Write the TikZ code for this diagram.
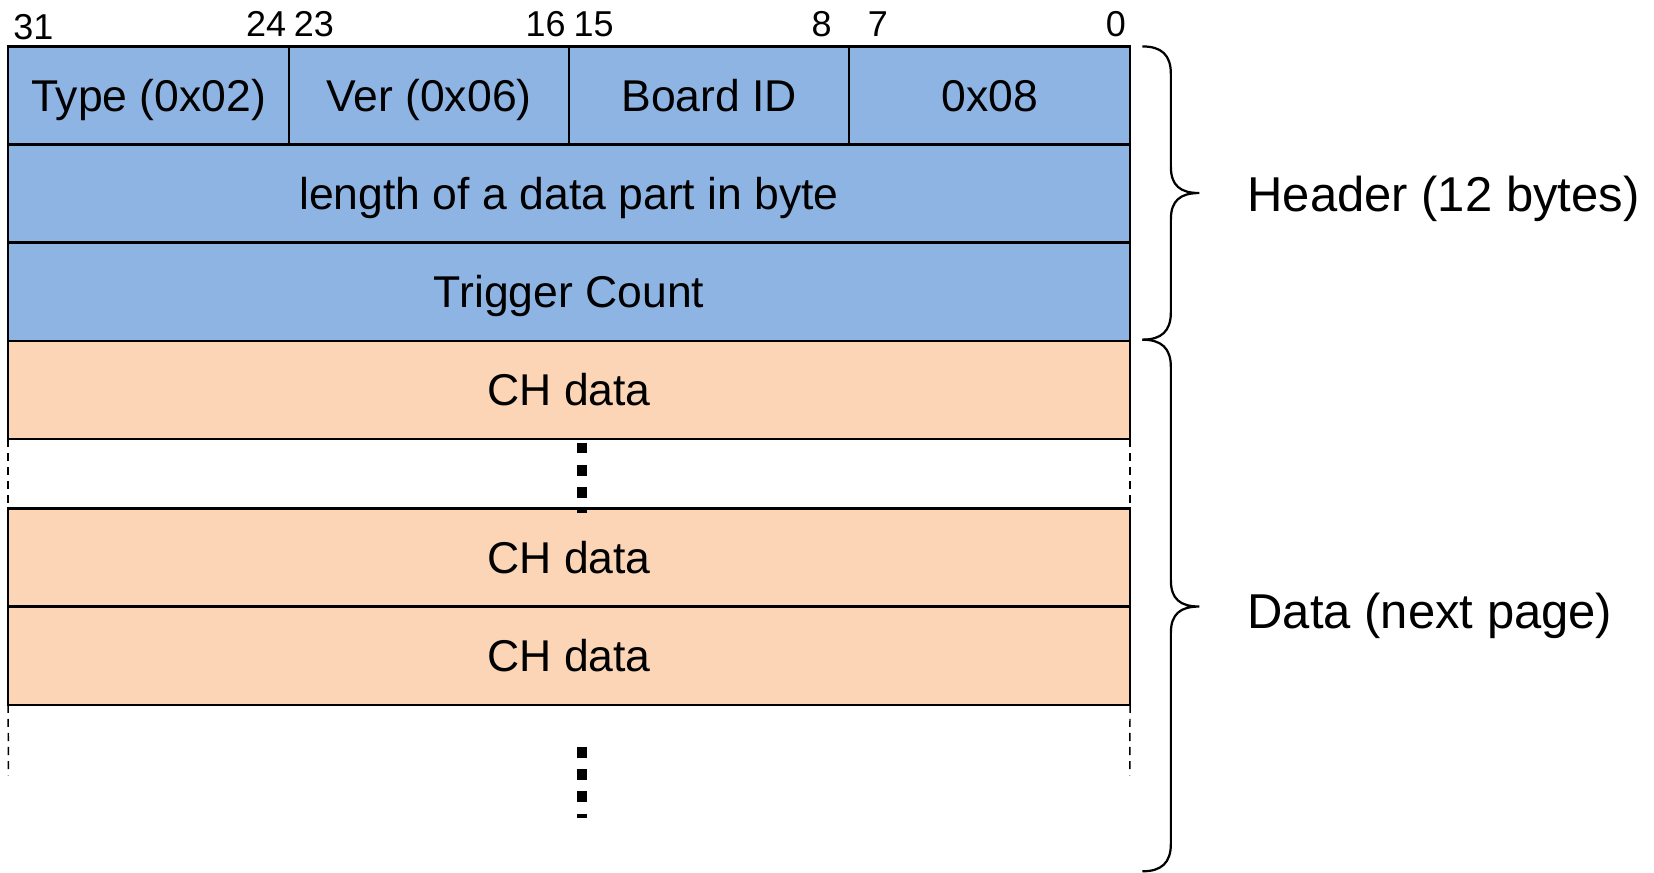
\documentclass[tikz,border=0pt]{standalone}
\usepackage{fontspec}
\setmainfont{Liberation Sans}
\usetikzlibrary{positioning}
\definecolor{hdrblue}{HTML}{8EB4E3}
\definecolor{datatan}{HTML}{FBD5B5}

\begin{document}
\begin{tikzpicture}[x=0.01cm, y=-0.01cm,
		field/.style={draw, line width=0.6pt, minimum height=0.93cm, inner sep=0pt, outer sep=0pt,
			font=\fontsize{12}{14}\selectfont, text height=10pt, text depth=1.5pt},
		hdr/.style={field, fill=hdrblue},
		chd/.style={field, fill=datatan, minimum width=10.63cm},
		bitno/.style={font=\fontsize{9.7}{11}\selectfont, inner sep=0pt},
		gapline/.style={line width=0.4pt, dash pattern=on 2.2pt off 1.6pt},
		vdots/.style={line width=2.6pt, dash pattern=on 2.9pt off 3.1pt},
		brace/.style={line width=0.6pt},
		side/.style={font=\fontsize{13.2}{15}\selectfont, inner sep=0pt, anchor=base west}
		]
		\useasboundingbox (0,0) rectangle (1568,827);
		
		% first word: four byte fields
		\foreach \lbl [count=\i from 0] in {Type (0x02),Ver (0x06),Board ID,0x08}
		\node[hdr, minimum width=2.6575cm] (f\i) at (140.9+265.75*\i, 90.5) {\lbl};
		
		\node[hdr, minimum width=10.63cm] (len) at (539.5, 183.5) {length of a data part in byte};
		\node[hdr, minimum width=10.63cm] (trig) at (539.5, 276.5) {Trigger Count};
		
		\node[chd] (ch1) at (539.5, 369.5) {CH data};
		\node[chd] (ch2) at (539.5, 528.5) {CH data};
		\node[chd] (ch3) at (539.5, 621.5) {CH data};
		
		% bit numbers
		\node[bitno, anchor=base west] (b31) at (12, 37) {31};
		\node[bitno, anchor=base east] (b24) at (272, 35) {24};
		\node[bitno, anchor=base west] (b23) at (278, 35) {23};
		\node[bitno, anchor=base east] (b16) at (537, 35) {16};
		\node[bitno, anchor=base west] (b15) at (543, 35) {15};
		\node[bitno, anchor=base east] (b8) at (789, 35) {8};
		\node[bitno, anchor=base west] (b7) at (822, 35) {7};
		\node[bitno, anchor=base east] (b0) at (1068, 35) {0};
		
		% open sides between the channel words
		\coordinate (tailL) at (8, 735);
		\coordinate (tailR) at (1071, 735);
		\draw[gapline] (ch1.south west) -- (ch2.north west);
		\draw[gapline] (ch1.south east) -- (ch2.north east);
		\draw[gapline] (ch3.south west) -- (tailL);
		\draw[gapline] (ch3.south east) -- (tailR);
		
		\draw[vdots] (552, 419.7) -- (552, 486);
		\draw[vdots] (552, 708) -- (552, 775);
		
		% braces
		\draw[brace] (1083,44) .. controls (1101,44) and (1110,52) .. (1110,70) -- (1110,158)
		.. controls (1110,176) and (1119,183) .. (1137,183)
		.. controls (1119,183) and (1110,190) .. (1110,208) -- (1110,296)
		.. controls (1110,314) and (1101,322) .. (1083,322);
		\draw[brace] (1083,322) .. controls (1101,322) and (1110,330) .. (1110,348) -- (1110,550)
		.. controls (1110,568) and (1119,575) .. (1137,575)
		.. controls (1119,575) and (1110,582) .. (1110,600) -- (1110,800)
		.. controls (1110,818) and (1101,826) .. (1083,826);
		
		\node[side] (header) at (1182, 200.7) {Header (12 bytes)};
		\node[side] (data) at (1182, 595.5) {Data (next page)};
		
\end{tikzpicture}
\end{document}
